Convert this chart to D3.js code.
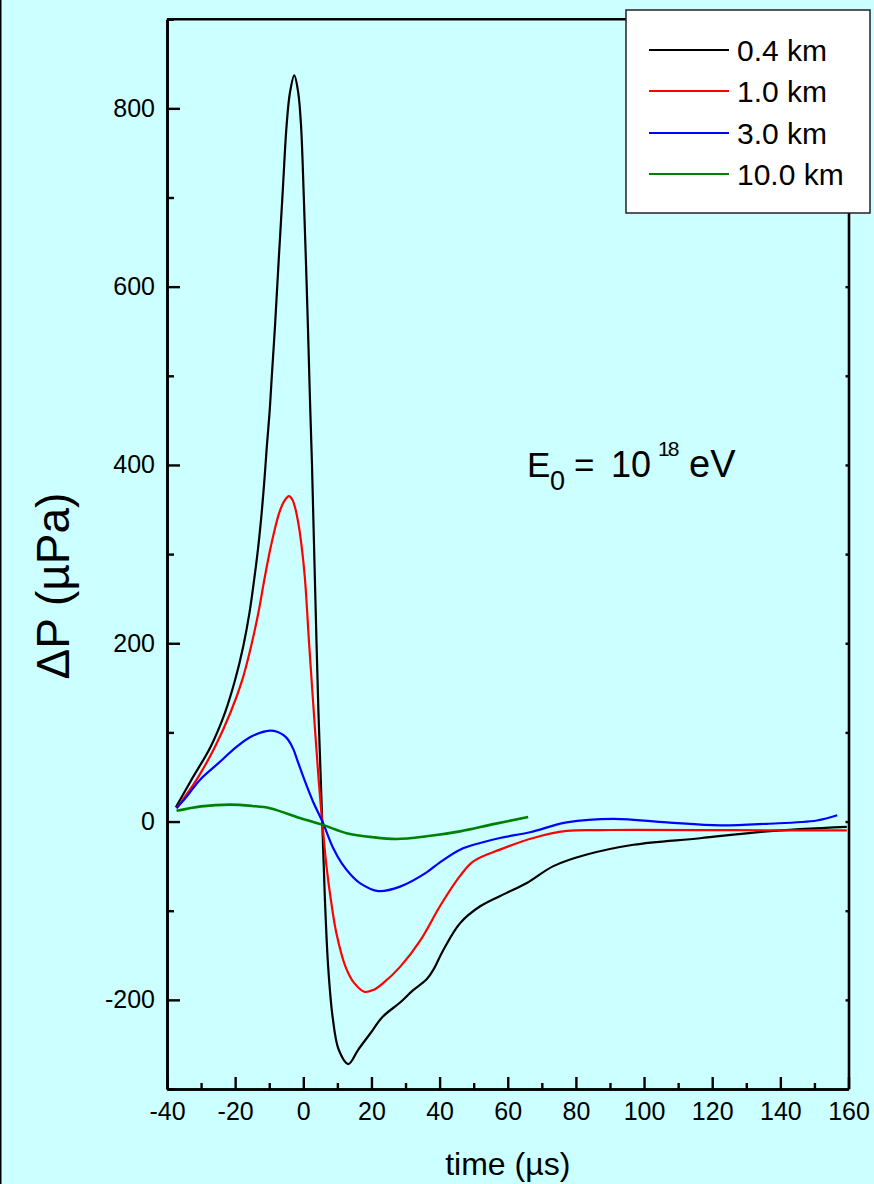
<!DOCTYPE html>
<html>
<head>
<meta charset="utf-8">
<script src="https://cdn.jsdelivr.net/npm/d3@7"></script>
<style>
  html, body { margin: 0; padding: 0; background: #CCFFFF; }
  svg { display: block; }
  text { font-family: "Liberation Sans", Arial, sans-serif; fill: #000; }
</style>
</head>
<body>
<svg id="chart" width="874" height="1184"></svg>
<script>
// ---------------- data (time in µs, ΔP in µPa) ----------------
const seriesLabels = ["0.4 km", "1.0 km", "3.0 km", "10.0 km"];
const seriesColors = ["#000000", "#FF0000", "#0000FF", "#008000"];

const km04 = [[-37.4,16],[-32.8,47],[-27.2,84],[-23,122],[-20,159],[-17.6,197],[-15.8,234],[-14.4,272],[-13.2,309],[-12.2,347],[-11.4,384],[-10.7,421],[-9.9,459],[-9.3,496],[-8.3,556],[-7.2,631],[-6.05,706],[-4.9,781],[-3.9,818],[-2.65,837],[-1.5,818],[-0.67,781],[0.1,706],[0.75,631],[1.35,556],[1.95,474],[2.55,400],[3.4,272],[4.45,122],[5.55,0],[6.35,-88],[7.3,-163],[8.6,-219],[10.4,-256],[13.2,-272],[16.1,-256],[19.6,-238],[23.3,-219],[28.4,-203],[32,-190],[36.2,-177],[38.2,-166],[41.1,-144],[46,-114],[51.9,-95],[59.7,-80],[65.6,-69],[73.4,-50],[83.2,-37],[96.9,-26],[116.4,-18.7],[136,-11],[159.5,-6]];

const km10 = [[-37.2,15],[-31.3,47],[-25.9,84],[-21.4,122],[-17.9,159],[-15.3,197],[-13.2,234],[-11.4,272],[-9.5,309],[-7,347],[-5.5,360],[-4.2,365],[-3.2,361],[-2.2,349],[-1.3,331],[-0.5,309],[0.45,274],[1.75,197],[3.1,122],[4.5,47],[5.55,0],[6.8,-50],[8.1,-88],[9.7,-125],[12.4,-163],[14.9,-181],[18,-191],[20.5,-189],[23.5,-181],[28.4,-163],[34.4,-133],[40.1,-95],[46,-61],[49.9,-44.6],[57.7,-31.5],[67.5,-18.4],[77.3,-10.5],[87,-9.6],[96.9,-9.4],[126.2,-9.7],[159.5,-10]];

const km30 = [[-37.2,15],[-34.2,28],[-30.3,47],[-24.9,65.5],[-19.5,84],[-15.1,95.6],[-9.8,102],[-7.5,100.5],[-5.8,97],[-4.4,91.5],[-2.9,81],[-1.5,66],[0.7,43],[2.9,22],[5.6,0],[8.8,-30],[11.3,-47],[14,-60],[16.6,-69],[22,-78],[28.4,-73],[36.2,-57],[40,-46],[46,-31.5],[51.9,-24],[57.7,-18.4],[66.5,-12],[77.3,-1],[91,3],[106.7,-1],[122.3,-4.3],[136,-2.5],[150.7,1.2],[156.7,7]];

const km100 = [[-37.2,12],[-30,17],[-21.5,19],[-15,17.5],[-9.8,15],[-1,4],[5.9,-4],[12.7,-13],[20.5,-17.6],[27.4,-19.5],[36.2,-16.5],[46,-11],[55.8,-2.9],[66,5]];

const seriesData = [km04, km10, km30, km100];

const xMajorTicks = [-40,-20,0,20,40,60,80,100,120,140,160];
const xMinorTicks = [-30,-10,10,30,50,70,90,110,130,150];
const yMajorTicks = [-200,0,200,400,600,800];
const yMinorTicks = [-300,-100,100,300,500,700,900];
const yRightTicks = [-200,-100,0,100,200,300,400,500,600,700,800];

// ---------------- layout ----------------
const svg = d3.select("#chart");
const W = 874, H = 1184;
const x = d3.scaleLinear().domain([-40, 160]).range([167, 848.5]);
const y = d3.scaleLinear().domain([-300, 900]).range([1089, 19.2]);
const fmt = d => String(d); // plain hyphen-minus

svg.append("rect").attr("width", W).attr("height", H).attr("fill", "#CCFFFF");
svg.append("line").attr("x1", 0.75).attr("x2", 0.75).attr("y1", 0).attr("y2", H)
  .attr("stroke", "#000").attr("stroke-width", 1.5);

// curves
const line = d3.line().x(d => x(d[0])).y(d => y(d[1])).curve(d3.curveCatmullRom.alpha(0.5));
svg.append("g").selectAll("path").data(seriesData).join("path")
  .attr("d", d => line(d))
  .attr("fill", "none")
  .attr("stroke", (d, i) => seriesColors[i])
  .attr("stroke-width", (d, i) => i === 3 ? 2.6 : 2.2)
  .attr("stroke-linejoin", "round");

// axes
function styleAxis(g) {
  g.selectAll("path.domain").attr("stroke", "#000").attr("stroke-width", 2.6);
  g.selectAll(".tick line").attr("stroke", "#000").attr("stroke-width", 2.4);
  g.selectAll(".tick text").style("font-family", '"Liberation Sans", Arial, sans-serif').attr("fill", "#000");
}

// top & right frame
svg.append("line").attr("x1", x(-40)).attr("x2", x(160)).attr("y1", y(900)).attr("y2", y(900))
  .attr("stroke", "#000").attr("stroke-width", 2.6);
const gRight = svg.append("g").attr("transform", `translate(${x(160)},0)`)
  .call(d3.axisRight(y).tickValues(yRightTicks).tickSizeInner(-3).tickSizeOuter(0).tickFormat(""));
styleAxis(gRight);

const gYMinor = svg.append("g").attr("transform", `translate(${x(-40)},0)`)
  .call(d3.axisLeft(y).tickValues(yMinorTicks).tickSizeInner(-7).tickSizeOuter(0).tickFormat(""));
styleAxis(gYMinor);
const gY = svg.append("g").attr("transform", `translate(${x(-40)},0)`)
  .call(d3.axisLeft(y).tickValues(yMajorTicks).tickSizeInner(-13).tickSizeOuter(0).tickPadding(12).tickFormat(fmt));
gY.selectAll(".tick text").attr("font-size", 25);
styleAxis(gY);

const gXMinor = svg.append("g").attr("transform", `translate(0,${y(-300)})`)
  .call(d3.axisBottom(x).tickValues(xMinorTicks).tickSizeInner(-6).tickSizeOuter(0).tickFormat(""));
styleAxis(gXMinor);
const gX = svg.append("g").attr("transform", `translate(0,${y(-300)})`)
  .call(d3.axisBottom(x).tickValues(xMajorTicks).tickSizeInner(-12).tickSizeOuter(0).tickPadding(13).tickFormat(fmt));
gX.selectAll(".tick text").attr("font-size", 25);
styleAxis(gX);

// axis titles
svg.append("text").attr("x", (x(-40) + x(160)) / 2).attr("y", 1175)
  .attr("text-anchor", "middle").attr("font-size", 32).text("time (µs)");
svg.append("text").attr("transform", "translate(69,586) rotate(-90)")
  .attr("text-anchor", "middle").attr("font-size", 46).text("ΔP (µPa)");

// annotation
const annG = svg.append("g");
annG.append("text").attr("x", 527).attr("y", 476.7).attr("font-size", 35).text("E");
annG.append("text").attr("x", 550).attr("y", 490).attr("font-size", 27).text("0");
annG.append("text").attr("x", 574).attr("y", 476.7).attr("font-size", 35).text("=");
annG.append("text").attr("x", 611).attr("y", 476.7).attr("font-size", 36).text("10");
annG.append("text").attr("x", 658).attr("y", 455.5).attr("font-size", 21).attr("letter-spacing", -2).text("18");
annG.append("text").attr("x", 689).attr("y", 476.7).attr("font-size", 38).text("eV");

// legend
const lg = svg.append("g");
lg.append("rect").attr("x", 626).attr("y", 10).attr("width", 244).attr("height", 203)
  .attr("fill", "#FFFFFF").attr("stroke", "#222").attr("stroke-width", 1.5);
const rowY = [50, 91, 133, 174];
const rows = lg.selectAll("g.row").data(seriesLabels).join("g").attr("class", "row")
  .attr("transform", (d, i) => `translate(0,${rowY[i]})`);
rows.append("line").attr("x1", 649).attr("x2", 729).attr("y1", 0).attr("y2", 0)
  .attr("stroke", (d, i) => seriesColors[i]).attr("stroke-width", 2.2);
rows.append("text").attr("x", 737).attr("y", 10.6).attr("font-size", 30).text(d => d);
</script>
</body>
</html>
